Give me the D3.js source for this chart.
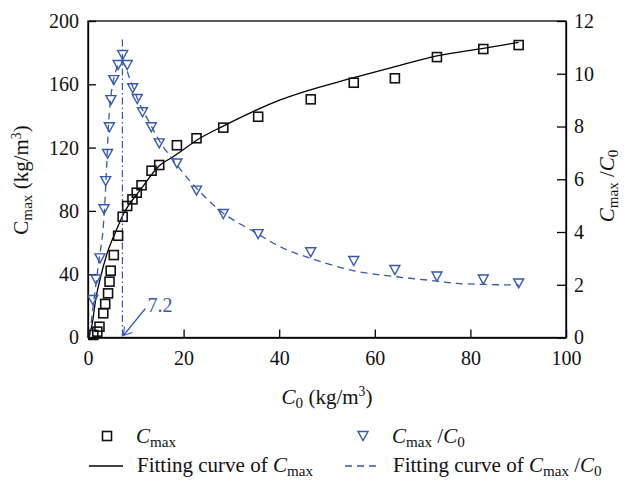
<!DOCTYPE html>
<html><head><meta charset="utf-8">
<script src="https://cdn.jsdelivr.net/npm/d3@7"></script>
</head>
<body style="margin:0;background:#fff"><svg id="c" width="629" height="484" style="display:block"></svg>
<script>
// ---- data ----
const cmaxC0 = [1.1,1.95,2.4,3.2,3.6,4.2,4.5,4.75,5.4,6.3,7.25,8.2,9.3,10.2,11.2,13.3,14.9,18.6,22.7,28.3,35.6,46.6,55.6,64.2,73,82.7,90.1];
const cmaxVal = [1.6,3.7,6.8,15.3,21.2,27.9,35.3,42.2,52.1,64.3,76.3,83.1,87.3,91.5,96.2,105.4,109,121.5,125.9,132.6,139.5,150.5,161,163.8,177.2,182.3,184.8];
const ratioC0 = [1.0,1.67,2.5,3.35,3.7,4.1,4.46,4.8,5.4,6.3,7.25,8.2,9.35,10.3,11.4,13.25,14.9,18.6,22.7,28.3,35.6,46.6,55.6,64.2,73,82.7,90.1];
const ratioVal = [1.42,2.2,3.0,4.86,5.93,6.96,7.97,9.0,9.76,10.33,10.71,10.33,9.45,9.04,8.54,7.97,7.36,6.6,5.57,4.68,3.92,3.23,2.9,2.56,2.31,2.2,2.05];
// fitted curves
const fitCmaxX = [0.2,0.9,1.6,2.65,4.0,5.8,7.5,10.9,15.1,17.8,23.4,28.3,35.3,40.2,55.6,64.2,73,82.7,90.1];
const fitCmaxY = [0,9,23.7,38.4,53.2,66.9,78.5,93.1,109,114.2,125.9,133.6,143.8,150.1,164.2,171.1,177.9,182.7,186.5];
const fitRatioX = [0.4,0.9,1.6,2.3,3.0,3.5,3.9,4.45,5.1,6.0,6.9,7.75,8.6,9.8,11.2,13,15.1,18.6,22.7,28.3,35.3,40.2,46.6,55.6,64.2,73,77.1,90.1];
const fitRatioY = [0.1,0.92,1.93,2.94,3.82,5.02,6.46,8.5,9.54,10.2,10.45,10.3,9.88,9.3,8.7,8.1,7.41,6.54,5.66,4.71,3.95,3.44,3.0,2.53,2.31,2.14,2.05,1.99];
const xTicks = [0,20,40,60,80,100];
const yLeftTicks = [0,40,80,120,160,200];
const yRightTicks = [0,2,4,6,8,10,12];
const peakC0 = 7.2;
const peakTop = 11.3;
const peakLabel = "7.2";

const FONT = '"Liberation Serif"';
const BLUE = "#3558ab";
const svg = d3.select("#c");
const L=88,R=566,T=21,B=337.5;
const x = d3.scaleLinear([0,100],[L,R]);
const yL = d3.scaleLinear([0,200],[B,T]);
const yR = d3.scaleLinear([0,12],[B,T]);

// frame
svg.append("rect").attr("x",L).attr("y",T).attr("width",R-L).attr("height",B-T)
  .attr("fill","none").attr("stroke","#000").attr("stroke-width",1.3);

const fs = 20;
const gx = svg.append("g").attr("transform",`translate(0,${B})`)
  .call(d3.axisBottom(x).tickValues(xTicks).tickSizeInner(-8).tickSizeOuter(0).tickPadding(13));
const gl = svg.append("g").attr("transform",`translate(${L},0)`)
  .call(d3.axisLeft(yL).tickValues(yLeftTicks).tickSizeInner(-8).tickSizeOuter(0).tickPadding(9));
const gr = svg.append("g").attr("transform",`translate(${R},0)`)
  .call(d3.axisRight(yR).tickValues(yRightTicks).tickSizeInner(-9).tickSizeOuter(0).tickPadding(8));
[gx,gl,gr].forEach(g=>{
  g.attr("font-family",null).attr("font-size",null);
  g.select(".domain").attr("stroke","#000").attr("stroke-width",1.3);
  g.selectAll(".tick line").attr("stroke","#000").attr("stroke-width",1.3);
  g.selectAll(".tick text").style("font-family",FONT).attr("font-size",fs).attr("fill","#111");
});

// fitting curves
const lineC = d3.line().x(d=>x(d[0])).y(d=>yL(d[1])).curve(d3.curveMonotoneX);
svg.append("path").attr("d",lineC(d3.zip(fitCmaxX,fitCmaxY)))
  .attr("fill","none").attr("stroke","#000").attr("stroke-width",1.3);
const lineR = d3.line().x(d=>x(d[0])).y(d=>yR(d[1])).curve(d3.curveCatmullRom);
svg.append("path").attr("d",lineR(d3.zip(fitRatioX,fitRatioY)))
  .attr("fill","none").attr("stroke",BLUE).attr("stroke-width",1.3).attr("stroke-dasharray","7,5");

// vertical dash-dot
svg.append("line").attr("x1",x(peakC0)).attr("x2",x(peakC0)).attr("y1",yR(peakTop)).attr("y2",yR(0))
  .attr("stroke",BLUE).attr("stroke-width",1.2).attr("stroke-dasharray","7,3,1.5,3");

// markers
const sq = 9;
svg.append("g").selectAll("rect").data(d3.zip(cmaxC0,cmaxVal)).join("rect")
  .attr("x",d=>x(d[0])-sq/2).attr("y",d=>yL(d[1])-sq/2).attr("width",sq).attr("height",sq)
  .attr("fill","none").attr("stroke","#111").attr("stroke-width",1.6);
const tri = (cx,cy,w,h)=>`M${cx-w/2},${cy-h/2}L${cx+w/2},${cy-h/2}L${cx},${cy+h/2}Z`;
svg.append("g").selectAll("path").data(d3.zip(ratioC0,ratioVal)).join("path")
  .attr("d",d=>tri(x(d[0]),yR(d[1]),10,9))
  .attr("fill","none").attr("stroke",BLUE).attr("stroke-width",1.4);

// annotation arrow + label
const ax0 = x(peakC0)+1, ay0 = yR(0)-2;
const ax1 = ax0+22, ay1 = ay0-27;
svg.append("line").attr("x1",ax1).attr("y1",ay1).attr("x2",ax0).attr("y2",ay0)
  .attr("stroke",BLUE).attr("stroke-width",1.2);
svg.append("path").attr("d",`M${ax0+1},${ay0-9}L${ax0},${ay0}L${ax0+9},${ay0-3}`)
  .attr("fill","none").attr("stroke",BLUE).attr("stroke-width",1.2);
svg.append("text").style("font-family",FONT).attr("x",ax1+2).attr("y",ay1+3).attr("font-size",20).attr("fill",BLUE).text(peakLabel);

function cText(sel, parts){
  sel.style("font-family",FONT).attr("fill","#111");
  parts.forEach(([t,type])=>{
    const ts = sel.append("tspan").style("font-family",FONT).text(t);
    if(type==='i') ts.attr("font-style","italic");
    if(type==='s') ts.attr("font-size","0.72em").attr("dy","0.25em");
    if(type==='sr') ts.attr("dy","-0.18em");
    if(type==='p') ts.attr("font-size","0.65em").attr("dy","-0.55em");
    if(type==='pr') ts.attr("dy","0.36em");
  });
}

// x title
const xt = svg.append("text").attr("x",327).attr("y",404).attr("text-anchor","middle").attr("font-size",21);
cText(xt,[["C",'i'],["0",'s'],[" (kg/m",'sr'],["3",'p'],[")",'pr']]);

// left title
const lt = svg.append("text").attr("transform","translate(28,180) rotate(-90)").attr("text-anchor","middle").attr("font-size",21);
cText(lt,[["C",'n'],["max",'s'],["  (kg/m",'sr'],["3",'p'],[")",'pr']]);

// right title
const rt = svg.append("text").attr("transform","translate(614,186) rotate(-90)").attr("text-anchor","middle").attr("font-size",21);
cText(rt,[["C",'i'],["max",'s'],[" /",'sr'],["C",'i'],["0",'s']]);

// legend
const lg = svg.append("g");
lg.append("rect").attr("x",107-4.5).attr("y",436-4.5).attr("width",9).attr("height",9)
  .attr("fill","none").attr("stroke","#111").attr("stroke-width",1.6);
cText(lg.append("text").attr("x",136).attr("y",443).attr("font-size",21),[["C",'i'],["max",'s']]);
lg.append("path").attr("d",tri(363,436,10,9)).attr("fill","none").attr("stroke",BLUE).attr("stroke-width",1.4);
cText(lg.append("text").attr("x",392).attr("y",443).attr("font-size",21),[["C",'i'],["max",'s'],[" /",'sr'],["C",'i'],["0",'s']]);
lg.append("line").attr("x1",89).attr("x2",123).attr("y1",466).attr("y2",466).attr("stroke","#000").attr("stroke-width",1.3);
cText(lg.append("text").attr("x",137).attr("y",472).attr("font-size",21),[["Fitting curve of ",'n'],["C",'i'],["max",'s']]);
lg.append("line").attr("x1",345).attr("x2",380).attr("y1",466).attr("y2",466).attr("stroke",BLUE).attr("stroke-width",1.3).attr("stroke-dasharray","7,5");
cText(lg.append("text").attr("x",393).attr("y",472).attr("font-size",21),[["Fitting curve of ",'n'],["C",'i'],["max",'s'],[" /",'sr'],["C",'i'],["0",'s']]);
</script></body></html>
